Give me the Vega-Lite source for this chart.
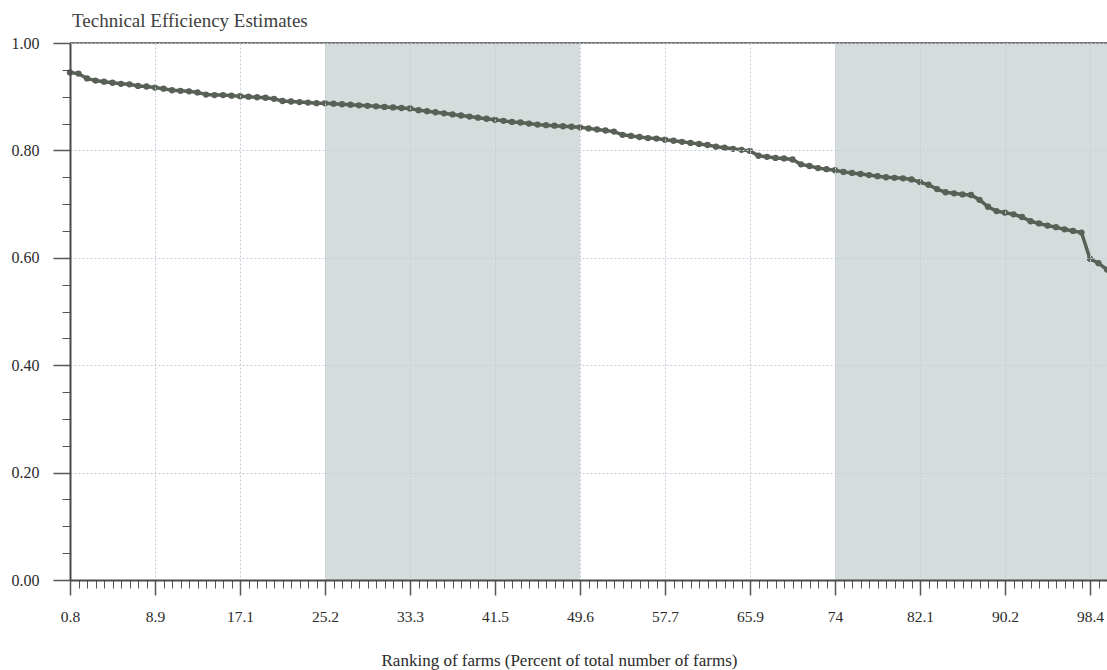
{
  "$schema": "https://vega.github.io/schema/vega-lite/v6.json",
  "width": 1037,
  "height": 537,
  "autosize": {"type": "none"},
  "padding": {"left": 70, "top": 43, "right": 0, "bottom": 90},
  "background": "white",
  "title": {"text": "Technical Efficiency Estimates", "anchor": "start", "frame": "group", "font": "Liberation Serif", "fontSize": 19, "fontWeight": "normal", "color": "#404040", "baseline": "alphabetic", "offset": 15, "dx": 2, "dy": 26},
  "config": {"view": {"stroke": null}},
  "datasets": {
    "bands": [{"start": 31, "end": 61}, {"start": 91, "end": 123}],
    "te": [
      {"farm": 1, "te": 0.945}, {"farm": 2, "te": 0.943}, {"farm": 3, "te": 0.934}, {"farm": 4, "te": 0.930}, {"farm": 5, "te": 0.928},
      {"farm": 6, "te": 0.926}, {"farm": 7, "te": 0.924}, {"farm": 8, "te": 0.923}, {"farm": 9, "te": 0.920}, {"farm": 10, "te": 0.919},
      {"farm": 11, "te": 0.917}, {"farm": 12, "te": 0.915}, {"farm": 13, "te": 0.912}, {"farm": 14, "te": 0.911}, {"farm": 15, "te": 0.910},
      {"farm": 16, "te": 0.908}, {"farm": 17, "te": 0.904}, {"farm": 18, "te": 0.903}, {"farm": 19, "te": 0.903}, {"farm": 20, "te": 0.902},
      {"farm": 21, "te": 0.901}, {"farm": 22, "te": 0.900}, {"farm": 23, "te": 0.899}, {"farm": 24, "te": 0.898}, {"farm": 25, "te": 0.896},
      {"farm": 26, "te": 0.892}, {"farm": 27, "te": 0.891}, {"farm": 28, "te": 0.890}, {"farm": 29, "te": 0.889}, {"farm": 30, "te": 0.888},
      {"farm": 31, "te": 0.888}, {"farm": 32, "te": 0.887}, {"farm": 33, "te": 0.886}, {"farm": 34, "te": 0.885}, {"farm": 35, "te": 0.884},
      {"farm": 36, "te": 0.883}, {"farm": 37, "te": 0.882}, {"farm": 38, "te": 0.881}, {"farm": 39, "te": 0.880}, {"farm": 40, "te": 0.879},
      {"farm": 41, "te": 0.878}, {"farm": 42, "te": 0.875}, {"farm": 43, "te": 0.873}, {"farm": 44, "te": 0.871}, {"farm": 45, "te": 0.869},
      {"farm": 46, "te": 0.867}, {"farm": 47, "te": 0.865}, {"farm": 48, "te": 0.863}, {"farm": 49, "te": 0.861}, {"farm": 50, "te": 0.859},
      {"farm": 51, "te": 0.857}, {"farm": 52, "te": 0.855}, {"farm": 53, "te": 0.853}, {"farm": 54, "te": 0.852}, {"farm": 55, "te": 0.850},
      {"farm": 56, "te": 0.848}, {"farm": 57, "te": 0.847}, {"farm": 58, "te": 0.846}, {"farm": 59, "te": 0.845}, {"farm": 60, "te": 0.844},
      {"farm": 61, "te": 0.843}, {"farm": 62, "te": 0.841}, {"farm": 63, "te": 0.839}, {"farm": 64, "te": 0.837}, {"farm": 65, "te": 0.835},
      {"farm": 66, "te": 0.829}, {"farm": 67, "te": 0.827}, {"farm": 68, "te": 0.825}, {"farm": 69, "te": 0.823}, {"farm": 70, "te": 0.822},
      {"farm": 71, "te": 0.820}, {"farm": 72, "te": 0.818}, {"farm": 73, "te": 0.816}, {"farm": 74, "te": 0.814}, {"farm": 75, "te": 0.812},
      {"farm": 76, "te": 0.810}, {"farm": 77, "te": 0.807}, {"farm": 78, "te": 0.805}, {"farm": 79, "te": 0.803}, {"farm": 80, "te": 0.801},
      {"farm": 81, "te": 0.799}, {"farm": 82, "te": 0.790}, {"farm": 83, "te": 0.788}, {"farm": 84, "te": 0.786}, {"farm": 85, "te": 0.785},
      {"farm": 86, "te": 0.783}, {"farm": 87, "te": 0.774}, {"farm": 88, "te": 0.771}, {"farm": 89, "te": 0.767}, {"farm": 90, "te": 0.765},
      {"farm": 91, "te": 0.763}, {"farm": 92, "te": 0.760}, {"farm": 93, "te": 0.758}, {"farm": 94, "te": 0.756}, {"farm": 95, "te": 0.754},
      {"farm": 96, "te": 0.752}, {"farm": 97, "te": 0.750}, {"farm": 98, "te": 0.749}, {"farm": 99, "te": 0.748}, {"farm": 100, "te": 0.746},
      {"farm": 101, "te": 0.741}, {"farm": 102, "te": 0.736}, {"farm": 103, "te": 0.728}, {"farm": 104, "te": 0.722}, {"farm": 105, "te": 0.720},
      {"farm": 106, "te": 0.718}, {"farm": 107, "te": 0.717}, {"farm": 108, "te": 0.708}, {"farm": 109, "te": 0.695}, {"farm": 110, "te": 0.687},
      {"farm": 111, "te": 0.684}, {"farm": 112, "te": 0.681}, {"farm": 113, "te": 0.676}, {"farm": 114, "te": 0.668}, {"farm": 115, "te": 0.664},
      {"farm": 116, "te": 0.660}, {"farm": 117, "te": 0.657}, {"farm": 118, "te": 0.653}, {"farm": 119, "te": 0.650}, {"farm": 120, "te": 0.647},
      {"farm": 121, "te": 0.598}, {"farm": 122, "te": 0.590}, {"farm": 123, "te": 0.578}
    ]
  },
  "layer": [
    {
      "data": {"name": "bands"},
      "mark": {"type": "rect", "color": "#d5dcdc"},
      "encoding": {
        "x": {"field": "start", "type": "quantitative", "scale": {"domain": [1, 123], "nice": false, "zero": false},
          "axis": {"orient": "bottom", "values": [1,2,3,4,5,6,7,8,9,10,11,12,13,14,15,16,17,18,19,20,21,22,23,24,25,26,27,28,29,30,31,32,33,34,35,36,37,38,39,40,41,42,43,44,45,46,47,48,49,50,51,52,53,54,55,56,57,58,59,60,61,62,63,64,65,66,67,68,69,70,71,72,73,74,75,76,77,78,79,80,81,82,83,84,85,86,87,88,89,90,91,92,93,94,95,96,97,98,99,100,101,102,103,104,105,106,107,108,109,110,111,112,113,114,115,116,117,118,119,120,121,122,123],
            "labels": false, "domain": false, "grid": false, "ticks": true, "tickSize": 8, "tickColor": "#555", "tickWidth": 1, "title": null, "zindex": 1}},
        "x2": {"field": "end"},
        "y": {"datum": 0, "type": "quantitative", "scale": {"domain": [0, 1], "nice": false},
          "axis": {"orient": "left", "values": [0.05,0.1,0.15,0.2,0.25,0.3,0.35,0.4,0.45,0.5,0.55,0.6,0.65,0.7,0.75,0.8,0.85,0.9,0.95],
            "labels": false, "domain": false, "grid": false, "ticks": true, "tickSize": 8, "tickColor": "#555", "tickWidth": 1, "title": null, "zindex": 1}},
        "y2": {"datum": 1}
      }
    },
    {
      "data": {"name": "te"},
      "mark": {"type": "line", "color": "#596056", "strokeWidth": 3.5, "point": {"filled": true, "size": 40, "color": "#596056"}},
      "encoding": {
        "x": {"field": "farm", "type": "quantitative", "scale": {"domain": [1, 123], "nice": false, "zero": false},
          "axis": {"orient": "bottom", "values": [1, 11, 21, 31, 41, 51, 61, 71, 81, 91, 101, 111, 121],
            "labelExpr": "format(datum.value / 1.23, '.1~f')", "labelFlush": false,
            "labelFont": "Liberation Serif", "labelFontSize": 15.5, "labelColor": "#2a2a2a", "labelPadding": 14,
            "tickSize": 15, "tickColor": "#555", "tickWidth": 1.5,
            "domainColor": "#4a4a4a", "domainWidth": 2,
            "grid": true, "gridColor": "#c3ced8", "gridDash": [2, 2], "gridWidth": 1,
            "title": "Ranking of farms (Percent of total number of farms)",
            "titleFont": "Liberation Serif", "titleFontSize": 17, "titleFontWeight": "normal", "titleColor": "#2a2a2a",
            "titleAlign": "center", "titleBaseline": "alphabetic", "titleX": 489, "titleY": 85, "zindex": 1}},
        "y": {"field": "te", "type": "quantitative", "scale": {"domain": [0, 1], "nice": false},
          "axis": {"orient": "left", "values": [0, 0.2, 0.4, 0.6, 0.8, 1.0], "format": ".2f", "labelFlush": false,
            "labelFont": "Liberation Serif", "labelFontSize": 16, "labelColor": "#2a2a2a", "labelPadding": 14,
            "tickSize": 17, "tickColor": "#555", "tickWidth": 1.5,
            "domainColor": "#4a4a4a", "domainWidth": 2,
            "grid": true, "gridColor": "#c3ced8", "gridDash": [2, 2], "gridWidth": 1,
            "title": null, "zindex": 1}}
      }
    },
    {
      "data": {"values": [{}]},
      "mark": {"type": "rule", "color": "#4a4a4a", "strokeWidth": 1.5},
      "encoding": {"y": {"datum": 1, "type": "quantitative", "scale": {"domain": [0, 1], "nice": false}, "axis": null}}
    }
  ],
  "resolve": {"axis": {"x": "independent", "y": "independent"}}
}
